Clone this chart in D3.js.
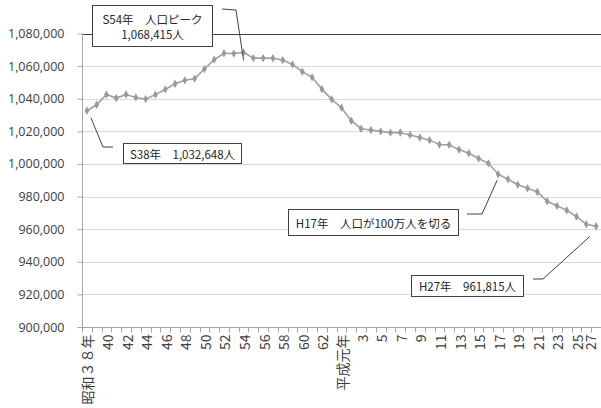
<!DOCTYPE html>
<html>
<head>
<meta charset="utf-8">
<script src="https://cdn.jsdelivr.net/npm/d3@7/dist/d3.min.js"></script>
<style>
  html, body { margin: 0; padding: 0; background: #fff; }
  svg { display: block; font-family: "Noto Sans CJK JP", "Noto Sans", sans-serif; }
</style>
</head>
<body>
<svg id="chart" width="601" height="408"></svg>
<script>
// Years: Showa 38-63, then Heisei 1-27
const years = [
  "S38","S39","S40","S41","S42","S43","S44","S45","S46","S47","S48","S49","S50",
  "S51","S52","S53","S54","S55","S56","S57","S58","S59","S60","S61","S62","S63",
  "H1","H2","H3","H4","H5","H6","H7","H8","H9","H10","H11","H12","H13","H14",
  "H15","H16","H17","H18","H19","H20","H21","H22","H23","H24","H25","H26","H27"
];

// Population per year
const population = [
  1032648, 1036300, 1042600, 1040400, 1042600, 1040800, 1039800, 1042500, 1045700,
  1049200, 1051300, 1052300, 1058200, 1064000, 1067900, 1067700, 1068415, 1064900,
  1064900, 1064800, 1063700, 1061000, 1056600, 1053100, 1045900, 1039600, 1034500,
  1026500, 1021600, 1020800, 1020000, 1019200, 1019300, 1017800, 1016200, 1014600,
  1011900, 1011700, 1008800, 1006600, 1003300, 1000400, 993700, 990600, 987300,
  985100, 982800, 977100, 974300, 971600, 967700, 963000, 961815
];

// Axis labels shown on every other year
const xTickLabels = {
  "S38": "昭和３８年", "S40": "40", "S42": "42", "S44": "44", "S46": "46", "S48": "48",
  "S50": "50", "S52": "52", "S54": "54", "S56": "56", "S58": "58", "S60": "60",
  "S62": "62", "H1": "平成元年", "H3": "3", "H5": "5", "H7": "7", "H9": "9",
  "H11": "11", "H13": "13", "H15": "15", "H17": "17", "H19": "19", "H21": "21",
  "H23": "23", "H25": "25", "H27": "27"
};

const yTicks = [900000, 920000, 940000, 960000, 980000, 1000000, 1020000, 1040000, 1060000, 1080000];

// Callouts: text lines, anchor year
const callouts = [
  { year: "S54", lines: ["S54年　人口ピーク", "1,068,415人"] },
  { year: "S38", lines: ["S38年　1,032,648人"] },
  { year: "H17", lines: ["H17年　人口が100万人を切る"] },
  { year: "H27", lines: ["H27年　961,815人"] }
];

const svg = d3.select("#chart");
const plotLeft = 82, plotRight = 601, plotTop = 33.5, plotBottom = 327;

const x = d3.scaleBand().domain(years).range([plotLeft, plotRight]).padding(0);
const cx = d => x(d) + x.bandwidth() / 2;
const y = d3.scaleLinear().domain([900000, 1080000]).range([plotBottom, plotTop]);
const fmt = d3.format(",");

// Gridlines
svg.append("g")
  .selectAll("line")
  .data(yTicks.filter(v => v > 900000))
  .join("line")
  .attr("x1", plotLeft).attr("x2", plotRight)
  .attr("y1", d => Math.round(y(d)) + 0.5).attr("y2", d => Math.round(y(d)) + 0.5)
  .attr("stroke", d => d === 1080000 ? "#404040" : "#d9d9d9")
  .attr("stroke-width", 1);

// Y axis
const yAxis = svg.append("g")
  .attr("transform", `translate(${plotLeft + 0.5},0)`)
  .call(d3.axisLeft(y).tickValues(yTicks).tickFormat(fmt).tickSize(5).tickPadding(13));
yAxis.select(".domain").attr("stroke", "#a6a6a6").attr("d", `M0,${y(1080000)}V${y(900000)}`);
yAxis.selectAll(".tick line").attr("stroke", "#a6a6a6");
yAxis.selectAll(".tick text").attr("font-size", 12.5).attr("fill", "#404040")
  .attr("font-family", "'Open Sans', 'Noto Sans', sans-serif");

// X axis baseline and boundary ticks
const xAxisY = Math.round(y(900000)) + 0.5;
svg.append("line")
  .attr("x1", plotLeft).attr("x2", plotRight)
  .attr("y1", xAxisY).attr("y2", xAxisY)
  .attr("stroke", "#a6a6a6");
svg.append("g")
  .selectAll("line")
  .data(years)
  .join("line")
  .attr("x1", d => Math.round(x(d)) + 0.5).attr("x2", d => Math.round(x(d)) + 0.5)
  .attr("y1", xAxisY).attr("y2", xAxisY + 5)
  .attr("stroke", "#a6a6a6");

// X labels, rotated (the last one is kept inside the right edge)
svg.append("g")
  .selectAll("text")
  .data(years.filter(d => xTickLabels[d]))
  .join("text")
  .attr("transform", d => `translate(${Math.min(cx(d) + 0.5, 590)},${xAxisY + 7}) rotate(-90)`)
  .attr("text-anchor", "end")
  .attr("dominant-baseline", "central")
  .attr("font-size", 14)
  .attr("fill", "#404040")
  .text(d => xTickLabels[d]);

// Population line
const pts = years.map((d, i) => ({ year: d, v: population[i] }));
svg.append("path")
  .datum(pts)
  .attr("fill", "none")
  .attr("stroke", "#a0a0a0")
  .attr("stroke-width", 1.6)
  .attr("d", d3.line().x(d => cx(d.year)).y(d => y(d.v)));

svg.append("g")
  .selectAll("path")
  .data(pts)
  .join("path")
  .attr("transform", d => `translate(${cx(d.year)},${y(d.v)})`)
  .attr("d", d3.symbol(d3.symbolDiamond, 20))
  .attr("fill", "#9a9a9a");

// Callout boxes with leader lines
const boxes = {
  "S54": { x: 92, y: 5, w: 120, h: 41, leader: [[222, 9], [236, 10]] },
  "S38": { x: 123, y: 143, w: 118, h: 20, leader: [[113, 147], [103, 147]] },
  "H17": { x: 288, y: 209, w: 170, h: 26, leader: [[467, 214], [482, 214]] },
  "H27": { x: 411, y: 275, w: 112, h: 21, leader: [[533, 279], [543, 279]] }
};
// leader tips stop a few pixels short of the point
const tipOffset = { "S54": [0, 8], "S38": [4, 7], "H17": [-1, 6], "H27": [-6, 10] };

callouts.forEach(c => {
  const b = boxes[c.year];
  const i = years.indexOf(c.year);
  const px = cx(c.year) + tipOffset[c.year][0];
  const py = y(population[i]) + tipOffset[c.year][1];
  const pathPts = [...b.leader, [px, py]];
  svg.append("path")
    .attr("d", d3.line()(pathPts))
    .attr("fill", "none")
    .attr("stroke", "#404040")
    .attr("stroke-width", 1);
  svg.append("rect")
    .attr("x", b.x + 0.5).attr("y", b.y + 0.5)
    .attr("width", b.w).attr("height", b.h)
    .attr("fill", "#fff")
    .attr("stroke", "#404040")
    .attr("stroke-width", 1);
  const n = c.lines.length;
  c.lines.forEach((t, k) => {
    svg.append("text")
      .attr("x", b.x + b.w / 2 + 0.5)
      .attr("y", b.y + b.h / 2 + 0.5 + (k - (n - 1) / 2) * 15)
      .attr("text-anchor", "middle")
      .attr("dominant-baseline", "central")
      .attr("font-size", 11.5)
      .attr("fill", "#262626")
      .text(t);
  });
});
</script>
</body>
</html>
